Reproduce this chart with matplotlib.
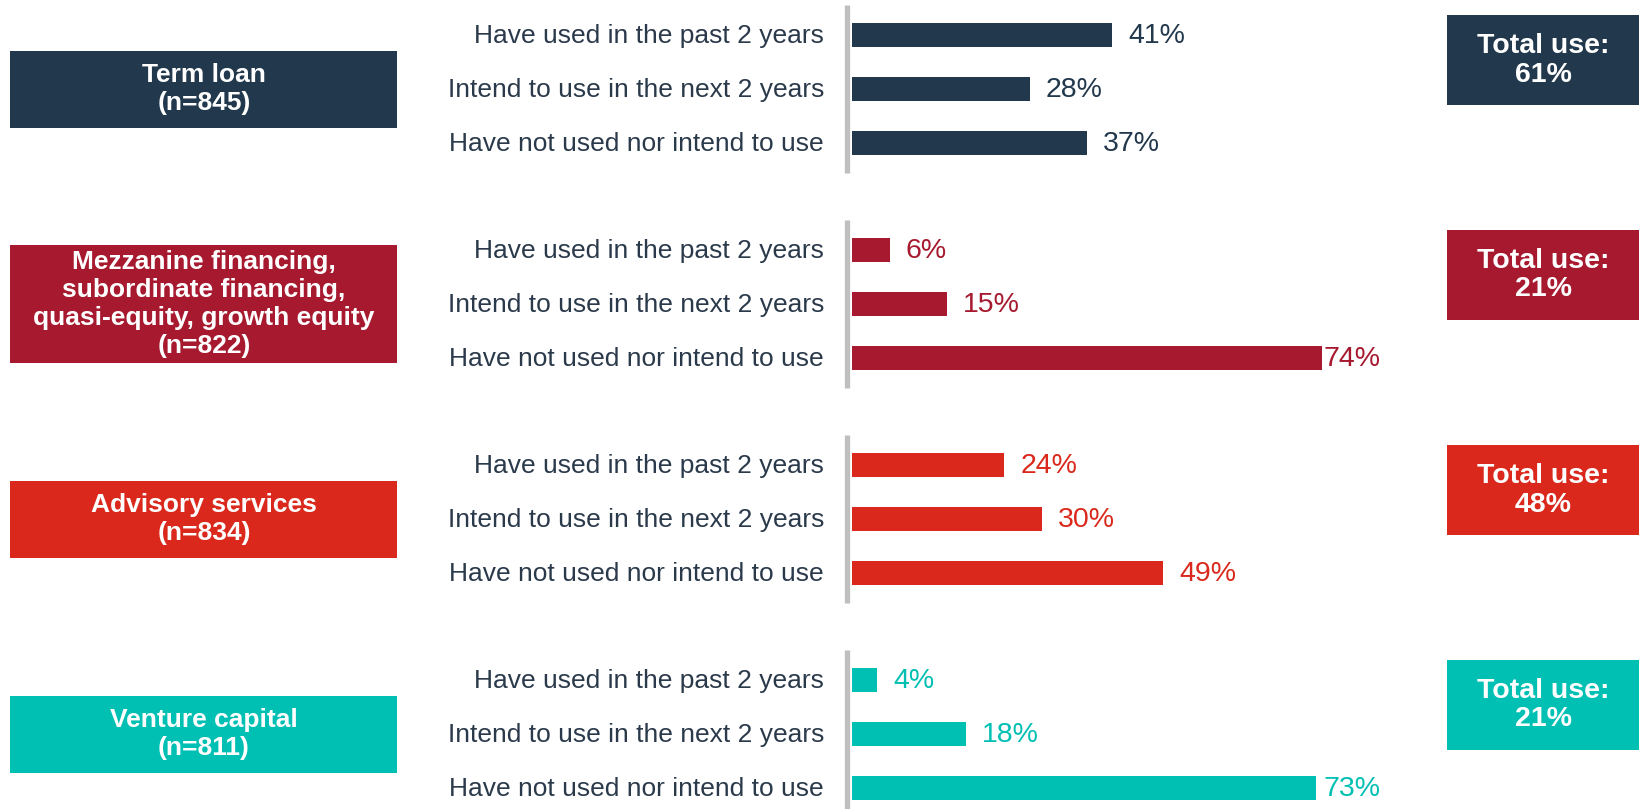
import matplotlib.pyplot as plt
from matplotlib.patches import Rectangle

plt.rcParams['font.family'] = ['Liberation Sans', 'DejaVu Sans']

# survey data: share of firms by financing product
products = ["Term loan\n(n=845)",
            "Mezzanine financing,\nsubordinate financing,\nquasi-equity, growth equity\n(n=822)",
            "Advisory services\n(n=834)",
            "Venture capital\n(n=811)"]
answers = ["Have used in the past 2 years",
           "Intend to use in the next 2 years",
           "Have not used nor intend to use"]
used_past = [41, 6, 24, 4]
intend_next = [28, 15, 30, 18]
not_used = [37, 74, 49, 73]
total_use = [61, 21, 48, 21]
colors = ["#22384C", "#A6192E", "#DA291C", "#00BFB3"]
label_color = "#2B3A4B"

W, H = 1640, 809
fig = plt.figure(figsize=(W / 100, H / 100), dpi=100)

# overlay axes in pixel units for boxes and text
bg = fig.add_axes([0, 0, 1, 1])
bg.set_xlim(0, W)
bg.set_ylim(H, 0)
bg.axis('off')

# bar axes: 1% = 6.35 px
x0, x1 = 852, 1440
ax = fig.add_axes([x0 / W, 0, (x1 - x0) / W, 1])
ax.set_xlim(0, (x1 - x0) / 6.35)
ax.set_ylim(H, 0)
ax.axis('off')

first, step, gap = 89, 215, 54
for g in range(len(products)):
    c = first + g * step
    col = colors[g]
    vals = [used_past[g], intend_next[g], not_used[g]]
    ys = [c - gap, c, c + gap]

    # gray baseline
    bg.plot([847, 847], [c - 84, c + 84], color="#BFBFBF", lw=3.8,
            solid_capstyle='butt')

    ax.barh(ys, vals, height=24, color=col)
    for y, v, a in zip(ys, vals, answers):
        ax.text(min(v + 2.5, 74.2), y + 1, f"{v}%", ha='left', va='center',
                fontsize=20.5, color=col)
        bg.text(824, y + 1, a, ha='right', va='center', fontsize=19,
                color=label_color)

    # product box on the left
    nlines = products[g].count("\n") + 1
    h = 36 + 20.5 * nlines
    bg.add_patch(Rectangle((10.5, c - h / 2), 387, h, color=col, lw=0))
    bg.text(204, c, products[g], ha='center', va='center', fontsize=19,
            fontweight='bold', color='white', linespacing=1.2)

    # total use box on the right
    bc = c - 29
    bg.add_patch(Rectangle((1447, bc - 45), 193, 90, color=col, lw=0))
    bg.text(1543.5, bc, f"Total use:\n{total_use[g]}%", ha='center',
            va='center', fontsize=20.5, fontweight='bold', color='white',
            linespacing=1.15)

fig.savefig("out.png", dpi=100)
